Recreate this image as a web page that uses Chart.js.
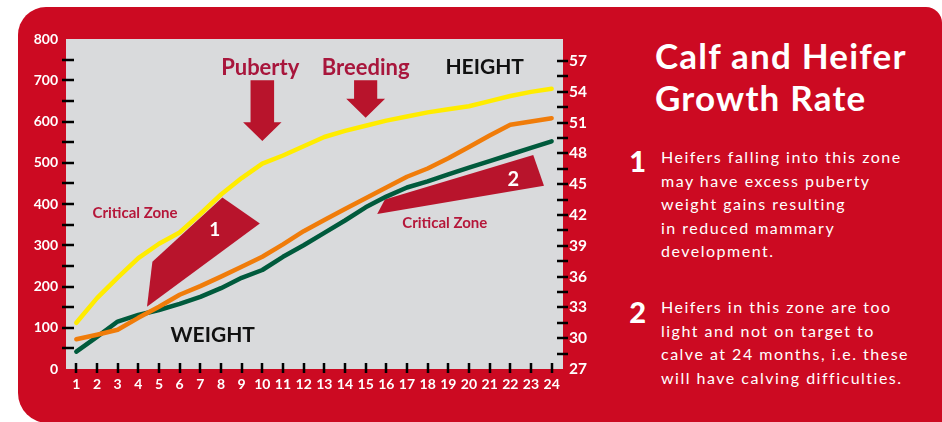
<!DOCTYPE html>
<html>
<head>
<meta charset="utf-8">
<script src="https://cdn.jsdelivr.net/npm/chart.js"></script>
<style>
  html, body { margin: 0; padding: 0; background: #fff; }
  body { width: 942px; height: 422px; position: relative; overflow: hidden; font-family: Lato, sans-serif; }
  .card {
    position: absolute; left: 18px; top: 7px; width: 924px; height: 416px;
    background: #cc0a22; border-radius: 28px 16px 0 30px;
  }
  #wrap { position: absolute; left: 0; top: 0; width: 600px; height: 422px; }
  .title {
    position: absolute; left: 655px; top: 35px; color: #fff;
    font: bold 35px/41.7px Lato, sans-serif; letter-spacing: 1.2px; white-space: nowrap;
  }
  .num {
    position: absolute; left: 615px; width: 31px; text-align: right; color: #fff;
    font: 900 29px/28px Lato, sans-serif;
  }
  .para {
    position: absolute; left: 661px; color: #fff; white-space: nowrap;
    font: 16px/23.5px Lato, sans-serif; letter-spacing: 1.5px;
  }
</style>
</head>
<body>
<div class="card"></div>
<div id="wrap"><canvas id="growth" width="600" height="422"></canvas></div>

<div class="title">Calf and Heifer<br>Growth Rate</div>
<div class="num" style="top:147px">1</div>
<div class="para" style="top:145px">Heifers falling into this zone<br>may have excess puberty<br>weight gains resulting<br>in reduced mammary<br>development.</div>
<div class="num" style="top:298px">2</div>
<div class="para" style="top:295px">Heifers in this zone are too<br>light and not on target to<br>calve at 24 months, i.e. these<br>will have calving difficulties.</div>

<script>
// months of age
var months = [1, 2, 3, 4, 5, 6, 7, 8, 9, 10, 11, 12, 13, 14, 15, 16, 17, 18, 19, 20, 21, 22, 23, 24];

// height (inches, right axis) - yellow
var heightInches = [31.5, 33.9, 35.9, 37.8, 39.2, 40.3, 42.1, 44.0, 45.6, 47.0, 47.8, 48.7,
                    49.6, 50.2, 50.7, 51.2, 51.6, 52.0, 52.3, 52.6, 53.1, 53.6, 54.0, 54.3];
// weight curves (left axis)
var weightOrange = [72, 83, 95, 124, 151, 180, 201, 224, 248, 272, 302, 334,
                    361, 388, 414, 440, 466, 486, 511, 538, 566, 592, 600, 608];
var weightGreen = [42, 78, 115, 131, 143, 158, 175, 196, 221, 240, 272, 300,
                   330, 360, 392, 418, 440, 455, 472, 488, 504, 520, 536, 552];

var weightTicks = [0, 50, 100, 150, 200, 250, 300, 350, 400, 450, 500, 550, 600, 650, 700, 750, 800];
var heightTicks = [27, 28.5, 30, 31.5, 33, 34.5, 36, 37.5, 39, 40.5, 42, 43.5, 45, 46.5, 48, 49.5, 51, 52.5, 54, 55.5, 57];

// annotation shapes in (month, weight) units
var zone1 = [[4.68, 260], [8.07, 416], [9.88, 353], [4.42, 151]];
var zone2 = [[15.56, 376], [15.93, 411], [23.11, 519], [23.63, 444]];
var pubertyArrow = { x: 10, top: 700, neck: 598, tip: 553, shaft: 0.57, head: 0.93 };
var breedingArrow = { x: 15, top: 700, neck: 655, tip: 609, shaft: 0.56, head: 0.94 };

var labels = [
  { text: 'Puberty', x: 9.9, y: 713, font: 'bold 22px Lato', color: '#a8163c' },
  { text: 'Breeding', x: 15, y: 713, font: 'bold 22px Lato', color: '#a8163c' },
  { text: 'HEIGHT', x: 20.76, y: 714, font: 'bold 21px Lato', color: '#111' },
  { text: 'WEIGHT', x: 7.6, y: 66, font: 'bold 21px Lato', color: '#111' },
  { text: 'Critical Zone', x: 3.84, y: 366, font: 'bold 15px Lato', color: '#b5173a' },
  { text: 'Critical Zone', x: 18.83, y: 341, font: 'bold 15px Lato', color: '#b5173a' },
  { text: '1', x: 7.7, y: 322, font: 'bold 19px Lato', color: '#fff' },
  { text: '2', x: 22.15, y: 444, font: 'bold 20px Lato', color: '#fff' }
];

var markFill = '#b8142c';

function pts(arr) {
  return months.map(function (m, i) { return { x: m, y: arr[i] }; });
}

var decor = {
  id: 'decor',
  beforeDraw: function (chart) {
    var a = chart.chartArea, c = chart.ctx;
    c.save();
    c.fillStyle = '#d9dadc';
    c.fillRect(a.left, a.top, a.right - a.left, a.bottom - a.top);
    c.restore();
  },
  beforeDatasetsDraw: function (chart) {
    var c = chart.ctx, sx = chart.scales.x, sy = chart.scales.y;
    function px(m) { return sx.getPixelForValue(m); }
    function py(w) { return sy.getPixelForValue(w); }
    c.save();
    c.fillStyle = markFill;
    [zone1, zone2].forEach(function (z) {
      c.beginPath();
      z.forEach(function (p, i) {
        if (i === 0) c.moveTo(px(p[0]), py(p[1])); else c.lineTo(px(p[0]), py(p[1]));
      });
      c.closePath();
      c.fill();
    });
    [pubertyArrow, breedingArrow].forEach(function (ar) {
      c.beginPath();
      c.moveTo(px(ar.x - ar.shaft), py(ar.top));
      c.lineTo(px(ar.x + ar.shaft), py(ar.top));
      c.lineTo(px(ar.x + ar.shaft), py(ar.neck));
      c.lineTo(px(ar.x + ar.head), py(ar.neck));
      c.lineTo(px(ar.x), py(ar.tip));
      c.lineTo(px(ar.x - ar.head), py(ar.neck));
      c.lineTo(px(ar.x - ar.shaft), py(ar.neck));
      c.closePath();
      c.fill();
    });
    c.textAlign = 'center';
    c.textBaseline = 'alphabetic';
    labels.forEach(function (l) {
      c.font = l.font;
      c.fillStyle = l.color;
      c.fillText(l.text, px(l.x), py(l.y));
    });
    c.restore();
  },
  afterDraw: function (chart) {
    var c = chart.ctx, a = chart.chartArea, s = chart.scales;
    c.save();
    c.strokeStyle = '#000';
    c.lineWidth = 2.5;
    c.beginPath();
    months.forEach(function (m) {
      var x = Math.round(s.x.getPixelForValue(m));
      c.moveTo(x, a.bottom - 6); c.lineTo(x, a.bottom + 4);
    });
    weightTicks.forEach(function (v) {
      if (v === 0 || v === 800) return;
      var y = Math.round(s.y.getPixelForValue(v));
      c.moveTo(a.left - 4, y); c.lineTo(a.left + 8, y);
    });
    heightTicks.forEach(function (v) {
      if (v === 27) return;
      var y = Math.round(s.y2.getPixelForValue(v));
      c.moveTo(a.right - 6, y); c.lineTo(a.right + 5, y);
    });
    c.stroke();
    c.restore();
  }
};

var tickFont = { family: 'Lato', weight: 'bold', size: 14 };

new Chart(document.getElementById('growth'), {
  type: 'line',
  data: {
    datasets: [
      { label: 'Height', data: pts(heightInches), yAxisID: 'y2', borderColor: '#ffec00', borderWidth: 4.5 },
      { label: 'Weight (orange)', data: pts(weightOrange), yAxisID: 'y', borderColor: '#f07c0a', borderWidth: 4.5 },
      { label: 'Weight (green)', data: pts(weightGreen), yAxisID: 'y', borderColor: '#005a3c', borderWidth: 4.5 }
    ]
  },
  options: {
    responsive: false,
    animation: false,
    devicePixelRatio: 1,
    layout: { padding: { top: 39, left: 0, right: 0, bottom: 0 } },
    elements: { point: { radius: 0 }, line: { tension: 0, borderCapStyle: 'round', borderJoinStyle: 'round' } },
    plugins: { legend: { display: false }, tooltip: { enabled: false } },
    scales: {
      x: {
        type: 'linear', min: 0.5, max: 24.55,
        afterBuildTicks: function (ax) { ax.ticks = months.map(function (v) { return { value: v }; }); },
        afterFit: function (ax) { ax.height = 53; },
        grid: { display: false, drawTicks: false },
        border: { display: false },
        ticks: { color: '#fff', font: tickFont, padding: 7, autoSkip: false, maxRotation: 0 }
      },
      y: {
        position: 'left', min: 0, max: 800,
        afterBuildTicks: function (ax) { ax.ticks = weightTicks.map(function (v) { return { value: v }; }); },
        afterFit: function (ax) { ax.width = 66; },
        grid: { display: false, drawTicks: false },
        border: { display: false },
        ticks: {
          color: '#fff', font: tickFont, padding: 8, autoSkip: false,
          callback: function (v) { return v % 100 === 0 ? v : ''; }
        }
      },
      y2: {
        position: 'right', min: 27, max: 59.15,
        afterBuildTicks: function (ax) { ax.ticks = heightTicks.map(function (v) { return { value: v }; }); },
        afterFit: function (ax) { ax.width = 37; },
        grid: { display: false, drawTicks: false },
        border: { display: false },
        ticks: {
          color: '#fff', font: { family: 'Lato', weight: 'bold', size: 15.5 }, padding: 6, autoSkip: false,
          callback: function (v) { return v % 3 === 0 ? v : ''; }
        }
      }
    }
  },
  plugins: [decor]
});
</script>
</body>
</html>
